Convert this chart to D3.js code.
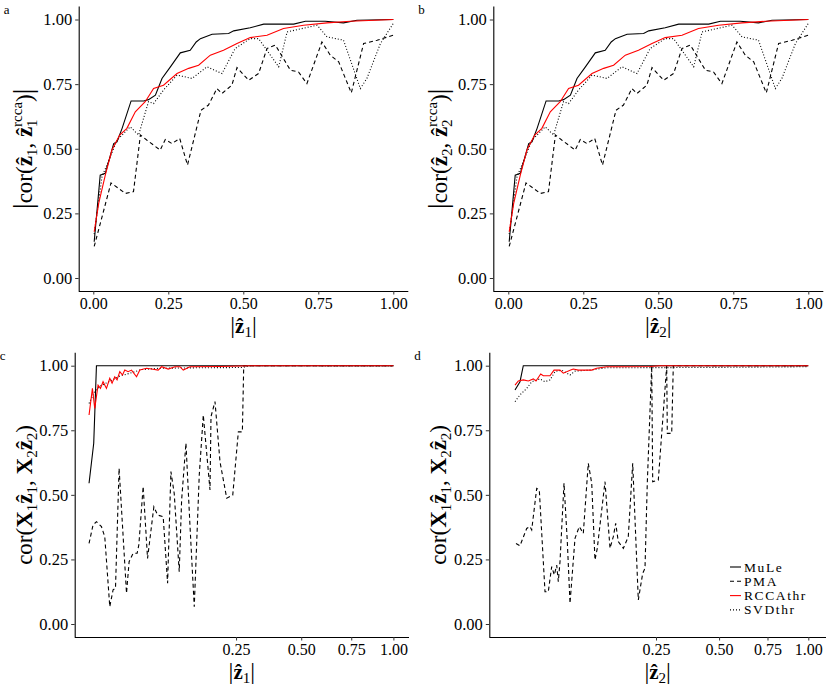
<!DOCTYPE html>
<html>
<head>
<meta charset="utf-8">
<script src="https://cdn.jsdelivr.net/npm/d3@7"></script>
<style>
  body { margin: 0; background: #fff; }
  text { font-family: "Liberation Serif", "DejaVu Serif", serif; fill: #000; }
</style>
</head>
<body>
<svg id="fig" width="830" height="692"></svg>
<script>
// Data

const methods = ["MuLe", "PMA", "RCCAthr", "SVDthr"];
const yTicks = [0, 0.25, 0.5, 0.75, 1];
const topXTicks = [0, 0.25, 0.5, 0.75, 1];
const botXTicks = [0.25, 0.5, 0.75, 1];

// panels a and b (same curves), [|z|, |cor|]
const topMuLe = [[0.003,0.14],[0.023,0.398],[0.04,0.405],[0.068,0.52],[0.079,0.527],[0.096,0.579],[0.126,0.685],[0.168,0.685],[0.184,0.69],[0.207,0.707],[0.229,0.772],[0.257,0.817],[0.29,0.871],[0.323,0.881],[0.343,0.913],[0.357,0.926],[0.396,0.943],[0.451,0.946],[0.468,0.956],[0.523,0.968],[0.568,0.982],[0.668,0.982],[0.707,0.993],[0.773,0.993],[0.834,0.987],[0.879,0.997],[1,1]];
const topPMA = [[0.003,0.122],[0.059,0.368],[0.107,0.327],[0.134,0.334],[0.157,0.553],[0.179,0.533],[0.223,0.495],[0.24,0.536],[0.262,0.52],[0.288,0.54],[0.314,0.437],[0.359,0.649],[0.384,0.669],[0.412,0.733],[0.429,0.714],[0.462,0.746],[0.479,0.814],[0.518,0.765],[0.551,0.791],[0.579,0.888],[0.607,0.901],[0.657,0.804],[0.684,0.797],[0.712,0.752],[0.762,0.913],[0.79,0.862],[0.818,0.836],[0.86,0.716],[0.901,0.907],[0.946,0.92],[1,0.939]];
const topRCCA = [[0.003,0.179],[0.018,0.289],[0.04,0.398],[0.062,0.495],[0.088,0.553],[0.112,0.579],[0.14,0.643],[0.173,0.682],[0.201,0.733],[0.234,0.746],[0.279,0.791],[0.318,0.811],[0.351,0.823],[0.39,0.862],[0.434,0.881],[0.479,0.907],[0.523,0.93],[0.579,0.939],[0.634,0.965],[0.701,0.978],[0.779,0.987],[0.857,0.993],[1,1]];
const topSVD = [[0.003,0.17],[0.029,0.392],[0.057,0.469],[0.079,0.533],[0.123,0.585],[0.151,0.553],[0.184,0.682],[0.201,0.675],[0.234,0.727],[0.279,0.785],[0.329,0.772],[0.379,0.817],[0.429,0.791],[0.473,0.888],[0.523,0.926],[0.551,0.926],[0.618,0.817],[0.646,0.952],[0.746,0.978],[0.779,0.933],[0.834,0.92],[0.89,0.733],[0.912,0.772],[0.957,0.907],[1,0.985]];

// panel c
const cMuLe = [[0.00108,0.545],[0.00228,0.70],[0.00318,1],[1,1]];
const cPMA = [[0.00108,0.312],[0.00207,0.383],[0.00318,0.396],[0.00523,0.377],[0.00686,0.338],[0.00975,0.067],[0.01193,0.132],[0.01366,0.138],[0.01647,0.603],[0.02308,0.119],[0.02566,0.241],[0.0299,0.274],[0.03448,0.274],[0.03651,0.306],[0.04194,0.532],[0.04787,0.254],[0.05706,0.454],[0.06281,0.422],[0.07208,0.415],[0.0798,0.158],[0.08585,0.59],[0.09211,0.506],[0.10203,0.202],[0.10697,0.48],[0.11613,0.70],[0.12497,0.383],[0.13484,0.067],[0.14677,0.577],[0.15674,0.809],[0.17406,0.519],[0.17674,0.803],[0.18758,0.861],[0.2016,0.628],[0.22128,0.487],[0.23961,0.499],[0.25736,0.744],[0.2705,0.744],[0.275,1],[1,1]];
const cRCCA = [[0.00108,0.809],[0.0019,0.912],[0.0026,0.835],[0.00378,0.925],[0.00478,0.912],[0.00599,0.938],[0.00778,0.912],[0.00975,0.951],[0.01124,0.932],[0.01314,0.957],[0.01488,0.945],[0.01705,0.977],[0.01937,0.964],[0.02146,0.983],[0.02465,0.977],[0.02816,0.983],[0.03378,0.957],[0.03775,0.983],[0.04648,0.99],[0.0536,0.987],[0.06376,0.983],[0.06938,0.996],[0.08088,0.987],[0.09345,0.996],[0.10349,0.996],[0.11036,0.983],[0.12497,0.996],[0.2016,0.997],[0.2966,1],[1,1]];
const cSVD = [[0.00108,0.854],[0.0026,0.90],[0.0045,0.92],[0.00975,0.94],[0.01705,0.96],[0.0258,0.97],[0.04,0.985],[0.0655,0.99],[0.1467,0.992],[0.2705,0.993],[0.2966,1],[1,0.999]];

// panel d
const dMuLe = [[0.00138,0.906],[0.00286,0.938],[0.00414,1],[1,1]];
const dPMA = [[0.00163,0.312],[0.00286,0.303],[0.0057,0.37],[0.00745,0.377],[0.00845,0.364],[0.01174,0.525],[0.01366,0.519],[0.01839,0.125],[0.02144,0.125],[0.02483,0.222],[0.02759,0.19],[0.03028,0.228],[0.03214,0.164],[0.03416,0.241],[0.0392,0.545],[0.0436,0.319],[0.0474,0.08],[0.0548,0.332],[0.0616,0.377],[0.0683,0.351],[0.0771,0.622],[0.0835,0.545],[0.0898,0.248],[0.0944,0.293],[0.1106,0.551],[0.1218,0.293],[0.1295,0.338],[0.1352,0.39],[0.1415,0.319],[0.1542,0.293],[0.1673,0.338],[0.1794,0.622],[0.1953,0.093],[0.2082,0.196],[0.2152,0.216],[0.2222,0.545],[0.2361,1],[0.2393,0.551],[0.2576,0.557],[0.2864,1],[0.2885,0.738],[0.3042,0.738],[0.31,1],[1,1]];
const dRCCA = [[0.00138,0.925],[0.0023,0.941],[0.00414,0.945],[0.00653,0.941],[0.00945,0.949],[0.01124,0.941],[0.01475,0.968],[0.0169,0.961],[0.0231,0.961],[0.02727,0.983],[0.03416,0.983],[0.0383,0.971],[0.0484,0.983],[0.0522,0.987],[0.06,0.983],[0.0712,0.983],[0.0835,0.983],[0.0932,0.99],[0.1143,0.996],[0.1458,0.996],[0.2307,0.997],[0.2633,1],[1,1]];
const dSVD = [[0.00138,0.861],[0.00286,0.887],[0.0057,0.912],[0.00845,0.938],[0.0142,0.949],[0.01839,0.938],[0.0231,0.945],[0.02836,0.977],[0.03626,0.983],[0.0474,0.964],[0.0548,0.979],[0.0803,0.983],[0.1143,0.992],[0.4153,0.993],[1,0.996]];

// Styles

const lineStyle = {
  MuLe:    { stroke: "#000", dash: null },
  PMA:     { stroke: "#000", dash: "4,3" },
  RCCAthr: { stroke: "#ff0000", dash: null },
  SVDthr:  { stroke: "#000", dash: "1,2" }
};

const svg = d3.select("#fig");

// Panels

const panels = [
  { letter: "a", sub: 1, kind: "top", left: 78.7, right: 408.3, top: 6.6, bottom: 291,
    x: d3.scaleLinear().domain([0, 1]).range([93.3, 393.3]), y: d3.scaleLinear().domain([0, 1]).range([278, 19.5]),
    xTicks: topXTicks, series: [topMuLe, topPMA, topRCCA, topSVD], titleX: 32 },
  { letter: "b", sub: 2, kind: "top", left: 493.3, right: 823.3, top: 6.6, bottom: 291,
    x: d3.scaleLinear().domain([0, 1]).range([508.3, 808.3]), y: d3.scaleLinear().domain([0, 1]).range([278, 19.5]),
    xTicks: topXTicks, series: [topMuLe, topPMA, topRCCA, topSVD], titleX: 447 },
  { letter: "c", sub: 1, kind: "bot", left: 74.7, right: 409, top: 352.8, bottom: 637,
    x: d3.scaleSqrt().domain([0, 1]).range([78.7, 393.4]), y: d3.scaleLinear().domain([0, 1]).range([624, 365.7]),
    xTicks: botXTicks, series: [cMuLe, cPMA, cRCCA, cSVD], titleX: 32 },
  { letter: "d", sub: 2, kind: "bot", left: 489.3, right: 826, top: 352.8, bottom: 637,
    x: d3.scaleSqrt().domain([0, 1]).range([503.7, 808.3]), y: d3.scaleLinear().domain([0, 1]).range([624, 365.7]),
    xTicks: botXTicks, series: [dMuLe, dPMA, dRCCA, dSVD], titleX: 446, legend: true }
];

function zhat(t, dy) {
  t.append("tspan").attr("font-weight", "bold").attr("dy", dy || 0).text("z\u0302");
}

function sub(t, s, dy) {
  t.append("tspan").attr("font-size", 15).attr("dy", dy).text(s);
}

function yTitle(g, p) {
  const t = g.append("text")
    .attr("transform", "translate(" + p.titleX + "," + ((p.top + p.bottom) / 2) + ") rotate(-90)")
    .attr("text-anchor", "middle")
    .attr("font-size", 23);
  if (p.kind === "top") {
    t.append("tspan").attr("font-size", 28).text("|");
    t.append("tspan").text("cor(");
    zhat(t);
    sub(t, p.sub, 5);
    t.append("tspan").attr("dy", -5).text(", ");
    zhat(t);
    sub(t, p.sub, 5);
    t.append("tspan").attr("font-size", 15).attr("dx", -7.5).attr("dy", -15).text("rcca");
    t.append("tspan").attr("dy", 10).text(")");
    t.append("tspan").attr("font-size", 28).text("|");
  } else {
    t.append("tspan").text("cor(");
    t.append("tspan").attr("font-weight", "bold").text("X");
    sub(t, "1", 5);
    zhat(t, -5);
    sub(t, "1", 5);
    t.append("tspan").attr("dy", -5).text(", ");
    t.append("tspan").attr("font-weight", "bold").text("X");
    sub(t, "2", 5);
    zhat(t, -5);
    sub(t, "2", 5);
    t.append("tspan").attr("dy", -5).text(")");
  }
}

function xTitle(g, p) {
  const t = g.append("text")
    .attr("x", (p.left + p.right) / 2)
    .attr("y", p.bottom + 42)
    .attr("text-anchor", "middle")
    .attr("font-size", 21);
  t.append("tspan").attr("font-size", 24).text("|");
  zhat(t);
  sub(t, p.sub, 4);
  t.append("tspan").attr("font-size", 24).attr("dy", -4).text("|");
}

panels.forEach(function (p) {
  const g = svg.append("g");

  const line = d3.line()
    .x(function (d) { return p.x(d[0]); })
    .y(function (d) { return p.y(d[1]); });

  // draw order: SVDthr, PMA, MuLe, RCCAthr on top
  [3, 1, 0, 2].forEach(function (i) {
    const st = lineStyle[methods[i]];
    g.append("path")
      .datum(p.series[i])
      .attr("d", line)
      .attr("fill", "none")
      .attr("stroke", st.stroke)
      .attr("stroke-width", 1.1)
      .attr("stroke-dasharray", st.dash);
  });

  // axes
  const xAxis = d3.axisBottom(p.x).tickValues(p.xTicks).tickSize(3.5).tickPadding(3)
    .tickFormat(d3.format(".2f"));
  const gx = g.append("g").attr("transform", "translate(0," + p.bottom + ")").call(xAxis);
  gx.select(".domain").attr("d", "M" + p.left + ",0.5H" + p.right);

  const yAxis = d3.axisLeft(p.y).tickValues(yTicks).tickSize(3.5).tickPadding(3)
    .tickFormat(d3.format(".2f"));
  const gy = g.append("g").attr("transform", "translate(" + p.left + ",0)").call(yAxis);
  gy.select(".domain").attr("d", "M0.5," + p.top + "V" + p.bottom);

  [gx, gy].forEach(function (a) {
    a.attr("font-family", null).attr("font-size", null);
    a.selectAll("text").attr("font-size", 16).attr("fill", "#000");
    a.selectAll("line").attr("stroke", "#333");
    a.select(".domain").attr("stroke", "#000").attr("stroke-width", 1.1);
  });
  gy.selectAll("text").attr("font-size", 16.5);

  yTitle(g, p);
  xTitle(g, p);

  svg.append("text")
    .attr("x", p.left - 75)
    .attr("y", p.top + 7)
    .attr("font-size", 13)
    .text(p.letter);

  if (p.legend) {
    const lg = g.append("g").attr("transform", "translate(730,567)");
    methods.forEach(function (m, i) {
      const st = lineStyle[m];
      lg.append("line")
        .attr("x1", 0).attr("x2", 11)
        .attr("y1", i * 14.3).attr("y2", i * 14.3)
        .attr("stroke", st.stroke)
        .attr("stroke-width", 1.1)
        .attr("stroke-dasharray", st.dash);
      lg.append("text")
        .attr("x", 14)
        .attr("y", i * 14.3 + 4.5)
        .attr("font-size", 13.5)
        .attr("letter-spacing", 1.6)
        .text(m);
    });
  }
});
</script>
</body>
</html>
